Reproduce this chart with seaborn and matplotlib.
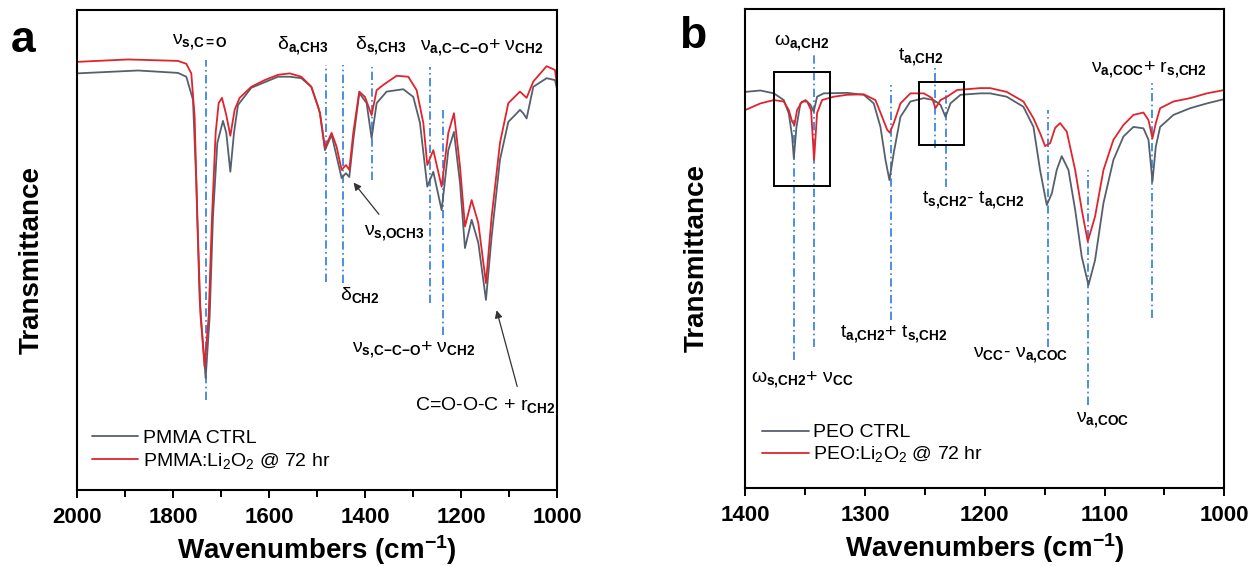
"""FTIR spectra of PMMA and PEO before/after Li2O2 exposure (panels a and b)."""

import matplotlib

matplotlib.use("Agg")
import matplotlib.pyplot as plt
import seaborn as sns
from matplotlib.patches import Rectangle

# ---- panel a: PMMA ---------------------------------------------------------
pmma_ctrl_wn = [2000, 1873.5, 1790.2, 1772.8, 1758.9, 1752, 1745, 1732.5, 1724.2, 1717.3,
                1708.2, 1696.4, 1689.5, 1681.1, 1673.5, 1665.2, 1637.4, 1581.8, 1557.5, 1533.2,
                1512.4, 1498.5, 1494.4, 1484, 1470.1, 1449.3, 1440.2, 1433.3, 1425, 1412.5,
                1397.2, 1386.8, 1376.3, 1355.5, 1320.8, 1300, 1286.1, 1270.8, 1258.3, 1240.9,
                1227, 1215.2, 1202.7, 1192.3, 1178.4, 1164.5, 1148.6, 1136.8, 1119.4, 1102,
                1088.1, 1077.8, 1071, 1063.9, 1050, 1022.2, 1004.8, 1000]
pmma_ctrl_t = [86.8, 87.4, 86.9, 86.1, 81.3, 64.0, 39.6, 23.3, 36.1, 56.9,
               72.3, 76.9, 74.4, 66.3, 74.4, 80.2, 83.8, 86.1, 86.1, 85.8,
               84.0, 79.9, 78.5, 70.8, 74.0, 65.0, 66.0, 65.2, 72.9, 82.7,
               80.6, 73.3, 80.6, 83.0, 83.5, 81.9, 76.5, 63.2, 66.3, 58.3,
               70.8, 74.6, 64.0, 50.4, 56.3, 51.5, 39.6, 52.8, 68.8, 76.7,
               78.1, 79.2, 78.5, 77.4, 84.0, 85.8, 85.4, 83.3]

pmma_li_wn = [2000, 1894.3, 1790.2, 1772.8, 1762.4, 1755.5, 1749.9, 1743, 1734.6, 1726.3,
              1719.3, 1711.7, 1705.4, 1698.5, 1689.5, 1681.1, 1672.1, 1661.7, 1637.4, 1609.6,
              1581.8, 1557.5, 1533.2, 1512.4, 1498.5, 1494.4, 1484, 1470.1, 1459.7, 1449.3,
              1440.2, 1433.3, 1425, 1412.5, 1400.7, 1386.8, 1376.3, 1362.5, 1334.7, 1310.4,
              1293, 1279.1, 1270.8, 1258.3, 1240.9, 1227, 1215.2, 1202.7, 1192.3, 1178.4,
              1164.5, 1148.6, 1136.8, 1119.4, 1102, 1077.8, 1063.9, 1050, 1022.2, 1004.8, 1000]
pmma_li_t = [89.2, 89.7, 89.4, 88.8, 86.8, 77.8, 56.9, 36.1, 25.7, 36.1,
             56.9, 74.4, 80.6, 81.7, 78.1, 73.8, 79.2, 81.7, 84.0, 85.4,
             86.5, 86.8, 86.1, 84.0, 79.9, 78.5, 71.3, 74.4, 71.5, 66.7,
             67.7, 66.7, 74.4, 83.0, 81.9, 78.1, 83.3, 84.4, 86.3, 86.1,
             83.3, 76.5, 67.7, 70.8, 63.2, 74.4, 78.5, 67.4, 54.9, 60.4,
             55.6, 43.1, 56.9, 72.3, 80.6, 83.0, 81.7, 85.1, 88.3, 87.5, 84.0]

pmma_band_wn = [1732.5, 1481.9, 1447.1, 1386.7, 1265.2, 1238.7]
pmma_band_top = [89.6, 88.5, 88.5, 88.1, 88.1, 79.6]
pmma_band_bottom = [18.8, 43.3, 43.1, 64.6, 39.0, 32.3]

# ---- panel b: PEO ----------------------------------------------------------
peo_ctrl_wn = [1400, 1387.2, 1376, 1367.7, 1363.5, 1360.7, 1359.3, 1357.1, 1353.8, 1349.6,
               1345.4, 1342.7, 1339.9, 1334.3, 1314.8, 1300.9, 1292.6, 1287, 1282.8, 1279.5,
               1275.9, 1270.3, 1262, 1250.8, 1242.5, 1236.9, 1232.7, 1228.6, 1220.2, 1203.5,
               1195.5, 1181.6, 1167.7, 1159.3, 1153.8, 1148.2, 1144, 1139.9, 1135.7, 1130.1,
               1124.5, 1119, 1113.4, 1107.9, 1100.9, 1092.6, 1084.2, 1075.9, 1067.5, 1063.3,
               1060, 1057.2, 1053.6, 1042.5, 1028.6, 1014.6, 1000]
peo_ctrl_t = [82.7, 83.0, 82.4, 81.0, 78.2, 73.4, 68.9, 75.4, 80.3, 81.0,
              80.0, 78.6, 81.7, 82.4, 82.5, 82.1, 80.3, 75.4, 68.5, 64.3,
              70.0, 77.5, 80.7, 81.4, 81.0, 80.0, 77.5, 80.3, 82.1, 82.4,
              82.4, 81.7, 79.6, 75.4, 66.4, 59.1, 61.5, 66.4, 69.3, 66.4,
              58.1, 48.3, 42.4, 47.6, 59.5, 68.5, 73.4, 75.4, 75.1, 72.7,
              64.0, 71.3, 75.4, 77.9, 79.3, 80.3, 81.2]

peo_li_wn = [1400, 1387.2, 1376, 1367.7, 1363.5, 1360.7, 1358.8, 1356.6, 1352.4, 1348.2,
             1344.9, 1342.4, 1339.9, 1335.7, 1326, 1314.8, 1300.9, 1291.2, 1285.6, 1281.4,
             1279.2, 1275.9, 1270.3, 1262, 1250.8, 1243.9, 1241.1, 1236.9, 1231.4, 1223,
             1203.5, 1195.5, 1181.6, 1167.7, 1159.3, 1153.8, 1149.6, 1145.4, 1141.2, 1137.1,
             1131.5, 1124.5, 1119, 1114, 1107.9, 1100.9, 1092.6, 1084.2, 1075.9, 1067.5,
             1063.3, 1060, 1057.2, 1053.6, 1042.5, 1028.6, 1014.6, 1000]
peo_li_t = [78.9, 80.3, 81.0, 80.7, 78.9, 76.5, 75.8, 78.9, 80.7, 80.7,
            78.9, 68.5, 78.3, 81.0, 81.7, 82.1, 82.2, 81.0, 77.5, 74.8,
            74.2, 76.2, 80.3, 82.4, 82.4, 81.4, 79.3, 81.0, 81.7, 83.1,
            83.5, 83.5, 82.7, 80.7, 77.2, 74.1, 71.4, 72.0, 75.2, 76.2,
            74.4, 66.4, 58.1, 51.5, 56.7, 66.4, 72.7, 75.8, 77.9, 78.4,
            76.8, 73.0, 76.2, 79.3, 80.7, 81.4, 82.4, 83.1]

peo_band_wn = [1359.3, 1342.4, 1278.1, 1241.1, 1232.7, 1146.8, 1113.4, 1060]
peo_band_top = [76.9, 90.8, 84.1, 87.7, 83.2, 79.0, 66.4, 84.6]
peo_band_bottom = [26.8, 29.5, 35.1, 71.0, 62.9, 29.5, 17.4, 35.5]

CTRL_COLOR = "#56606c"
LI_COLOR = "#e0242c"
BAND_COLOR = "#2f7be0"

sns.set_style("ticks")
plt.rcParams["font.family"] = ["Liberation Sans", "DejaVu Sans"]
plt.rcParams["mathtext.fontset"] = "custom"
plt.rcParams["mathtext.rm"] = "Liberation Sans"
plt.rcParams["mathtext.it"] = "Liberation Sans:italic"
plt.rcParams["mathtext.bf"] = "Liberation Sans:bold"
plt.rcParams["text.color"] = "black"
plt.rcParams["axes.labelcolor"] = "black"
plt.rcParams["xtick.color"] = "black"

fig = plt.figure(figsize=(12.56, 5.66), dpi=100)
ax_a = fig.add_axes([0.0615, 0.1343, 0.3822, 0.848])
ax_b = fig.add_axes([0.5932, 0.1373, 0.3816, 0.8468])


def draw_spectrum(ax, wn, t, color, label):
    sns.lineplot(x=wn, y=t, ax=ax, color=color, lw=1.3, label=label,
                 estimator=None, sort=False)


def style_axes(ax, xlim, major, minor):
    ax.set_xlim(*xlim)
    ax.set_ylim(0, 100)
    ax.set_xticks(range(int(xlim[1]), int(xlim[0]) + 1, major))
    ax.set_xticks(range(int(xlim[1]), int(xlim[0]) + 1, minor), minor=True)
    ax.set_yticks([])
    for spine in ax.spines.values():
        spine.set_visible(True)
        spine.set_linewidth(1.5)
        spine.set_color("black")
    ax.tick_params(axis="x", which="major", direction="out", length=6, width=1.4,
                   labelsize=16, pad=6, colors="black")
    ax.tick_params(axis="x", which="minor", direction="out", length=5, width=1.4,
                   colors="black")
    for lbl in ax.get_xticklabels():
        lbl.set_fontweight("bold")
    ax.set_xlabel("Wavenumbers (cm$^{\\mathbf{-1}}$)", fontsize=20, fontweight="bold")
    ax.xaxis.set_label_coords(0.5, -0.09)
    ax.set_ylabel("Transmittance", fontsize=20, fontweight="bold")


def bands(ax, wn, top, bottom):
    ax.vlines(wn, bottom, top, colors=BAND_COLOR, lw=1.2,
              linestyles=[(0, (5, 2, 1, 2))], zorder=1)


TXT = dict(fontsize=14, ha="center", va="center", color="black")

# panel a
draw_spectrum(ax_a, pmma_ctrl_wn, pmma_ctrl_t, CTRL_COLOR, "PMMA CTRL")
draw_spectrum(ax_a, pmma_li_wn, pmma_li_t, LI_COLOR, "PMMA:Li$_2$O$_2$ @ 72 hr")
bands(ax_a, pmma_band_wn, pmma_band_top, pmma_band_bottom)
style_axes(ax_a, (2000, 1000), 200, 100)
ax_a.yaxis.set_label_coords(-0.067, 0.48)

ax_a.text(1744, 93.3, r"$\mathrm{\nu}_{\mathbf{s{,}C{=}O}}$", **TXT)
ax_a.text(1530, 92.7, r"$\mathrm{\delta}_{\mathbf{a{,}CH3}}$", **TXT)
ax_a.text(1369, 92.7, r"$\mathrm{\delta}_{\mathbf{s{,}CH3}}$", **TXT)
ax_a.text(1157, 92.1, r"$\mathrm{\nu}_{\mathbf{a{,}C{-}C{-}O}}$+ $\mathrm{\nu}_{\mathbf{CH2}}$", **TXT)
ax_a.text(1340, 53.5, r"$\mathrm{\nu}_{\mathbf{s{,}OCH3}}$", **TXT)
ax_a.text(1411, 40.6, r"$\mathrm{\delta}_{\mathbf{CH2}}$", **TXT)
ax_a.text(1298, 29.2, r"$\mathrm{\nu}_{\mathbf{s{,}C{-}C{-}O}}$+ $\mathrm{\nu}_{\mathbf{CH2}}$", **TXT)
ax_a.text(1150, 17.7, r"C=O-O-C + r$_{\mathbf{CH2}}$", **TXT)
ax_a.annotate("", xy=(1428, 64.5), xytext=(1368, 57),
              arrowprops=dict(arrowstyle="-|>", color="#333333", lw=0.9, mutation_scale=11))
ax_a.annotate("", xy=(1128, 38), xytext=(1082, 21),
              arrowprops=dict(arrowstyle="-|>", color="#333333", lw=0.9, mutation_scale=11))

ax_a.legend(loc="lower left", bbox_to_anchor=(0.03, 0.04), frameon=False, fontsize=14,
            handlelength=2.4, handletextpad=0.25, labelspacing=0.2, borderpad=0,
            borderaxespad=0)

# panel b
draw_spectrum(ax_b, peo_ctrl_wn, peo_ctrl_t, CTRL_COLOR, "PEO CTRL")
draw_spectrum(ax_b, peo_li_wn, peo_li_t, LI_COLOR, "PEO:Li$_2$O$_2$ @ 72 hr")
bands(ax_b, peo_band_wn, peo_band_top, peo_band_bottom)
style_axes(ax_b, (1400, 1000), 100, 50)
ax_b.yaxis.set_label_coords(-0.073, 0.48)

ax_b.add_patch(Rectangle((1376, 63.1), -46.7, 23.8, fill=False, ec="black", lw=1.4, zorder=3))
ax_b.add_patch(Rectangle((1255, 71.6), -38.1, 13.2, fill=False, ec="black", lw=1.4, zorder=3))

ax_b.text(1352.4, 93.1, r"$\mathrm{\omega}_{\mathbf{a{,}CH2}}$", **TXT)
ax_b.text(1253, 90.0, r"t$_{\mathbf{a{,}CH2}}$", **TXT)
ax_b.text(1062.8, 87.3, r"$\mathrm{\nu}_{\mathbf{a{,}COC}}$+ r$_{\mathbf{s{,}CH2}}$", **TXT)
ax_b.text(1209.7, 60.2, r"t$_{\mathbf{s{,}CH2}}$- t$_{\mathbf{a{,}CH2}}$", **TXT)
ax_b.text(1352.4, 22.6, r"$\mathrm{\omega}_{\mathbf{s{,}CH2}}$+ $\mathrm{\nu}_{\mathbf{CC}}$", **TXT)
ax_b.text(1275.6, 32.2, r"t$_{\mathbf{a{,}CH2}}$+ t$_{\mathbf{s{,}CH2}}$", **TXT)
ax_b.text(1169.6, 27.8, r"$\mathrm{\nu}_{\mathbf{CC}}$- $\mathrm{\nu}_{\mathbf{a{,}COC}}$", **TXT)
ax_b.text(1101.2, 14.3, r"$\mathrm{\nu}_{\mathbf{a{,}COC}}$", **TXT)

ax_b.legend(loc="lower left", bbox_to_anchor=(0.035, 0.05), frameon=False, fontsize=14,
            handlelength=2.4, handletextpad=0.25, labelspacing=0.15, borderpad=0,
            borderaxespad=0)

fig.text(23 / 1256, 1 - 40 / 566, "a", fontsize=32, fontweight="bold", ha="center", va="center")
fig.text(693 / 1256, 1 - 36 / 566, "b", fontsize=32, fontweight="bold", ha="center", va="center")

fig.savefig("out.png", dpi=100)
